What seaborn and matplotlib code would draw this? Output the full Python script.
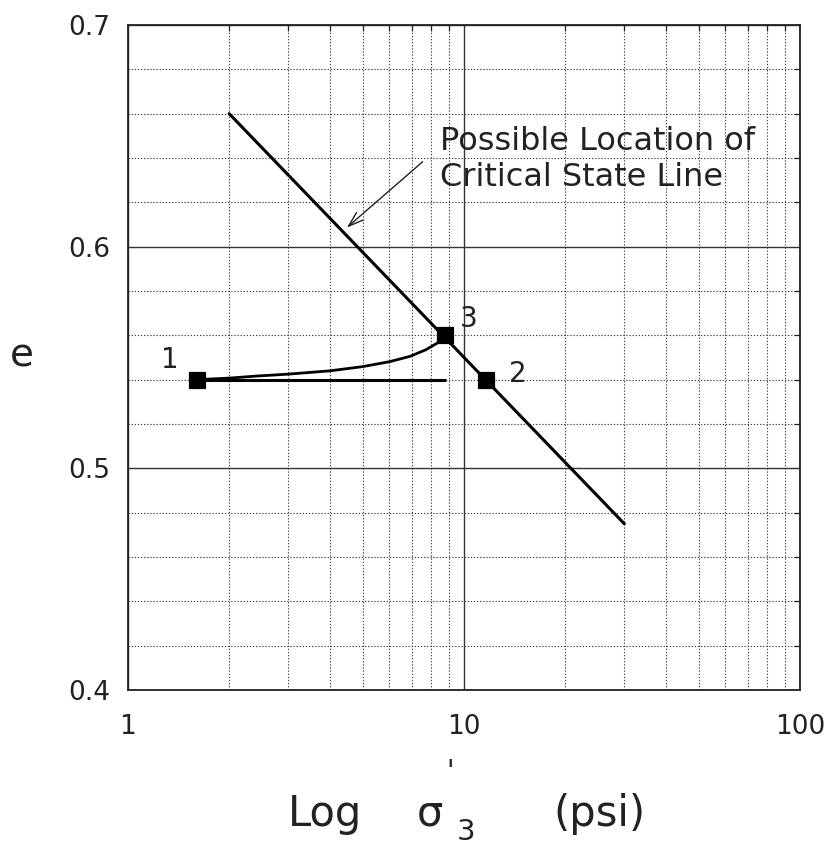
import numpy as np
import pandas as pd
import matplotlib
matplotlib.use("Agg")
import matplotlib.pyplot as plt
from matplotlib.ticker import LogLocator, MultipleLocator, FixedLocator, NullFormatter, FixedFormatter
import seaborn as sns

# ---- data ----
csl_x = [2.0, 30.0]
csl_y = [0.660, 0.475]

flat_x = [1.6, 8.8]
flat_y = [0.540, 0.540]

curve_x = [1.6, 2.0, 2.4, 3.0, 4.0, 5.0, 6.0, 6.9, 7.7, 8.5, 8.8]
curve_y = [0.540, 0.5407, 0.5416, 0.5425, 0.5440, 0.5459, 0.5481, 0.5505, 0.5535, 0.5573, 0.560]

pts_x = [1.6, 11.6, 8.8]
pts_y = [0.540, 0.540, 0.560]
pts_lab = ["1", "2", "3"]

x_ticks = [1, 10, 100]
x_ticklabels = ["1", "10", "100"]
y_ticks = [0.4, 0.5, 0.6, 0.7]
y_ticklabels = ["0.4", "0.5", "0.6", "0.7"]

note_text = "Possible Location of\nCritical State Line"

sns.set_theme(style="white")
plt.rcParams['font.family'] = ['DejaVu Sans']

W, H = 834, 848
fig = plt.figure(figsize=(W / 100, H / 100), dpi=100)
ax = fig.add_axes([128 / W, 1 - 690 / H, (800 - 128) / W, (690 - 25) / H])

ax.set_xscale("log")
ax.set_xlim(1, 100)
ax.set_ylim(0.4, 0.7)

# grid
ax.xaxis.set_major_locator(FixedLocator(x_ticks))
ax.xaxis.set_major_formatter(FixedFormatter(x_ticklabels))
ax.xaxis.set_minor_locator(LogLocator(base=10, subs=np.arange(2, 10)))
ax.xaxis.set_minor_formatter(NullFormatter())
ax.yaxis.set_major_locator(FixedLocator(y_ticks))
ax.yaxis.set_major_formatter(FixedFormatter(y_ticklabels))
ax.yaxis.set_minor_locator(MultipleLocator(0.02))

ax.grid(True, which="minor", color="#444444", linestyle=(0, (1.2, 1.6)), linewidth=0.8)
ax.grid(True, which="major", color="#333333", linestyle="-", linewidth=1.0)

ax.tick_params(which="both", direction="in", top=True, right=True, colors="#222222")
ax.tick_params(which="minor", length=4, width=0.9)
ax.tick_params(which="major", length=0)
ax.tick_params(axis="x", which="major", labelsize=19, pad=17, labelcolor="#222222")
ax.tick_params(axis="y", which="major", labelsize=19, pad=13, labelcolor="#222222")

for s in ax.spines.values():
    s.set_color("#222222")
    s.set_linewidth(1.3)
    s.set_visible(True)

# lines
sns.lineplot(x=csl_x, y=csl_y, ax=ax, color="black", linewidth=2.2, sort=False)
sns.lineplot(x=flat_x, y=flat_y, ax=ax, color="black", linewidth=2.2, sort=False)
sns.lineplot(x=curve_x, y=curve_y, ax=ax, color="black", linewidth=2.0, sort=False)
sns.scatterplot(x=pts_x, y=pts_y, ax=ax, marker="s", s=120, color="black",
                edgecolor="black", zorder=5)

offsets = {"1": (-19, 14), "2": (23, 4), "3": (17, 12)}
for x, y, lab in zip(pts_x, pts_y, pts_lab):
    ax.annotate(lab, (x, y), xytext=offsets[lab], textcoords="offset points",
                ha="center", va="center", fontsize=20, color="#222222")

ax.text(8.48, 0.6392, note_text, ha="left", va="center", fontsize=23,
        color="#222222", linespacing=1.2)
ax.annotate("", xy=(4.48, 0.6086), xytext=(7.53, 0.6383),
            arrowprops=dict(arrowstyle="->,head_length=0.9,head_width=0.3",
                            color="#222222", lw=1.0, shrinkA=0, shrinkB=0))

ax.set_xlabel("")
ax.set_ylabel("")

# axis titles built from pieces
def ft(x, y, s, **kw):
    fig.text(x / W, 1 - y / H, s, color="#222222", **kw)

ft(288, 826, "Log", fontsize=30, ha="left", va="baseline")
ft(417, 826, "σ", fontsize=30, ha="left", va="baseline")
ft(450, 772, "'", fontsize=20, ha="center", va="center")
ft(457, 840, "3", fontsize=21, ha="left", va="baseline")
ft(553, 826, "(psi)", fontsize=30, ha="left", va="baseline")
ft(22, 356, "e", fontsize=28, ha="center", va="center")

fig.savefig("out.png", dpi=100)
